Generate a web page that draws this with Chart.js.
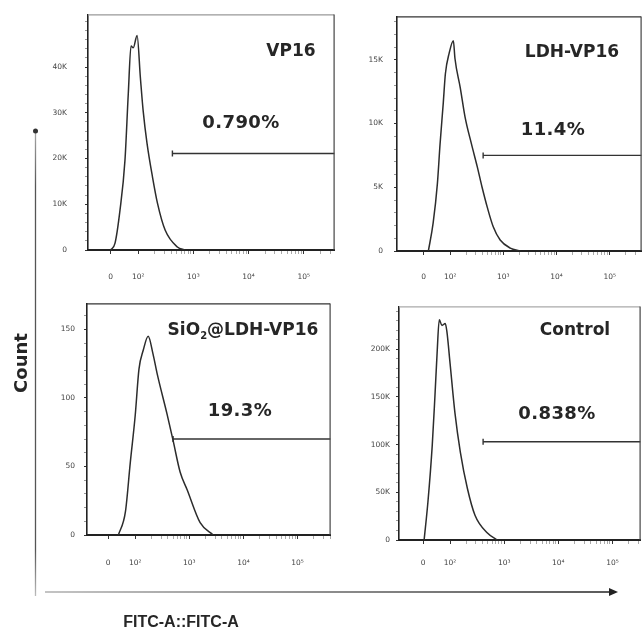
<!DOCTYPE html>
<html>
<head>
<meta charset="utf-8">
<script src="https://cdn.jsdelivr.net/npm/chart.js@4.4.1/dist/chart.umd.min.js"></script>
<style>
  html, body { margin: 0; padding: 0; background: #fff; }
  body { width: 643px; height: 631px; position: relative; overflow: hidden; font-family: "DejaVu Sans", sans-serif; }
  canvas { position: absolute; }
  .lbl { position: absolute; font-weight: bold; color: #262626; white-space: nowrap; transform: translate(-50%, -50%); }
  .title { font-size: 17px; }
  .pct { font-size: 18px; letter-spacing: 0.4px; }
  #count { position: absolute; left: 20px; top: 363px; font-size: 18px; font-weight: bold; color: #262626; transform: translate(-50%, -50%) rotate(-90deg); }
  #xname { position: absolute; left: 181px; top: 622px; font-family: "Liberation Sans", sans-serif; font-size: 16px; font-weight: bold; color: #262626; transform: translate(-50%, -50%); white-space: nowrap; }
  svg { position: absolute; left: 0; top: 0; }
</style>
</head>
<body>
<canvas id="c1"></canvas>
<canvas id="c2"></canvas>
<canvas id="c3"></canvas>
<canvas id="c4"></canvas>
<svg width="643" height="631">
  <defs>
    <linearGradient id="hg" gradientUnits="userSpaceOnUse" x1="45" y1="0" x2="612" y2="0">
      <stop offset="0" stop-color="#b0b0b0"/>
      <stop offset="0.5" stop-color="#666"/>
      <stop offset="1" stop-color="#222"/>
    </linearGradient>
    <linearGradient id="vg" gradientUnits="userSpaceOnUse" x1="0" y1="130" x2="0" y2="596">
      <stop offset="0" stop-color="#aaa"/>
      <stop offset="0.12" stop-color="#555"/>
      <stop offset="0.9" stop-color="#555"/>
      <stop offset="1" stop-color="#bbb"/>
    </linearGradient>
  </defs>
  <line x1="35.5" y1="131" x2="35.5" y2="596" stroke="url(#vg)" stroke-width="1.3"/>
  <circle cx="35.5" cy="131" r="2.5" fill="#333"/>
  <line x1="45" y1="592" x2="612" y2="592" stroke="url(#hg)" stroke-width="1.5"/>
  <polygon points="618,592 609,588 609,596" fill="#222"/>
</svg>
<div id="count">Count</div>
<div id="xname">FITC-A::FITC-A</div>

<div class="lbl title" style="left:291px;top:50px">VP16</div>
<div class="lbl pct" style="left:241px;top:121px">0.790%</div>
<div class="lbl title" style="left:572px;top:51px">LDH-VP16</div>
<div class="lbl pct" style="left:553px;top:128px">11.4%</div>
<div class="lbl title" style="left:243px;top:330px">SiO<sub style="font-size:10px">2</sub>@LDH-VP16</div>
<div class="lbl pct" style="left:240px;top:409px">19.3%</div>
<div class="lbl title" style="left:575px;top:329px">Control</div>
<div class="lbl pct" style="left:557px;top:412px">0.838%</div>

<script>
// FITC-A channel on a biexponential display scale: 0 -> 1.5, 10^n -> n
const xTickValues = [1.5, 2, 3, 4, 5];
const xTickLabels = ["0", "10\u00b2", "10\u00b3", "10\u2074", "10\u2075"];

// VP16
const vp16X = [1.50, 1.58, 1.67, 1.76, 1.82, 1.87, 1.91, 1.98, 2.04, 2.09, 2.16, 2.26, 2.35, 2.49, 2.71, 2.85];
const vp16Y = [0, 1500, 8700, 19600, 34100, 44600, 44200, 46900, 37600, 30400, 23300, 15900, 10200, 4300, 650, 0];
const vp16Ticks = [0, 10000, 20000, 30000, 40000];
const vp16TickLabels = ["0", "10K", "20K", "30K", "40K"];
const vp16Gate = [2.62, 21100];

// LDH-VP16
const ldhX = [1.59, 1.68, 1.76, 1.81, 1.87, 1.91, 1.98, 2.06, 2.09, 2.19, 2.28, 2.40, 2.51, 2.60, 2.70, 2.81, 2.94, 3.13, 3.32];
const ldhY = [0, 2200, 5300, 8400, 11600, 13900, 15500, 16500, 15100, 12800, 10500, 8400, 6600, 5000, 3400, 1900, 860, 230, 0];
const ldhTicks = [0, 5000, 10000, 15000];
const ldhTickLabels = ["0", "5K", "10K", "15K"];
const ldhGate = [2.62, 7500];

// SiO2@LDH-VP16
const sioX = [1.69, 1.82, 1.91, 2.00, 2.07, 2.15, 2.24, 2.33, 2.41, 2.59, 2.70, 2.83, 2.96, 3.20, 3.44];
const sioY = [0, 17, 53, 87, 121, 135, 145, 132, 117, 88, 69, 46, 33, 9, 0];
const sioTicks = [0, 50, 100, 150];
const sioTickLabels = ["0", "50", "100", "150"];
const sioGate = [2.70, 70];

// Control
const ctrlX = [1.52, 1.59, 1.67, 1.72, 1.76, 1.80, 1.85, 1.91, 1.94, 2.00, 2.09, 2.19, 2.32, 2.46, 2.69, 2.87];
const ctrlY = [0, 39600, 99000, 151000, 196000, 231000, 225000, 227000, 219000, 185000, 133000, 92000, 54000, 26000, 7300, 0];
const ctrlTicks = [0, 50000, 100000, 150000, 200000];
const ctrlTickLabels = ["0", "50K", "100K", "150K", "200K"];
const ctrlGate = [2.61, 103000];

const frame = {
  id: "frame",
  afterDatasetsDraw(chart, args, opts) {
    const a = chart.chartArea;
    const ctx = chart.ctx;
    ctx.save();
    ctx.lineWidth = 1.2;
    ctx.strokeStyle = opts.top || "#444";
    ctx.beginPath();
    ctx.moveTo(a.left, a.top + 0.5);
    ctx.lineTo(a.right - 0.5, a.top + 0.5);
    ctx.stroke();
    ctx.strokeStyle = "#444";
    ctx.beginPath();
    ctx.moveTo(a.right - 0.5, a.top);
    ctx.lineTo(a.right - 0.5, a.bottom);
    ctx.stroke();
    ctx.restore();
  }
};

// minor ticks: log steps between decades on x, fifths of the major step on y
function xMinorTicks(xMin, xMax) {
  const out = [];
  for (let d = 2; d < 6; d++) {
    for (let k = 2; k < 10; k++) {
      const v = d + Math.log10(k);
      if (v > xMin && v < xMax) out.push(v);
    }
  }
  return out;
}

function makePanel(id, box, xs, ys, yTicks, yLabels, gate, xMin, xMax, yMax, yPad, xPad, topColor) {
  const yW = 40, xH = 36, padTop = 4, padRight = 3;
  const canvas = document.getElementById(id);
  const left = box.left - yW;
  const top = box.top - padTop;
  const w = box.right - left + padRight * 2;
  const h = box.bottom - top + xH;
  canvas.width = w;
  canvas.height = h;
  canvas.style.left = left + "px";
  canvas.style.top = top + "px";
  const tickFont = { family: "DejaVu Sans", size: 7.5 };
  const step = yTicks[1] - yTicks[0];
  const yMinor = [];
  for (let v = step / 5; v < yMax; v += step / 5) {
    if (!yTicks.some((t) => Math.abs(t - v) < step / 50)) yMinor.push(v);
  }
  const xMinor = xMinorTicks(xMin, xMax);
  const xAll = xTickValues.concat(xMinor).sort((a, b) => a - b);
  const yAll = yTicks.concat(yMinor).sort((a, b) => a - b);
  new Chart(canvas.getContext("2d"), {
    type: "line",
    data: {
      datasets: [
        {
          data: xs.map((x, i) => ({ x: x, y: ys[i] })),
          borderColor: "#2c2c2c",
          borderWidth: 1.5,
          pointRadius: 0,
          cubicInterpolationMode: "monotone",
          fill: false,
        },
        {
          data: [{ x: gate[0], y: gate[1] }, { x: xMax, y: gate[1] }],
          borderColor: "#333",
          borderWidth: 1.4,
          pointStyle: "line",
          rotation: 90,
          pointRadius: (c) => (c.dataIndex === 0 ? 3 : 0),
          pointBorderColor: "#333",
          pointBorderWidth: 1.4,
        },
      ],
    },
    options: {
      responsive: false,
      animation: false,
      events: [],
      layout: { padding: { top: padTop, right: padRight, left: 0, bottom: 0 } },
      plugins: { legend: { display: false }, tooltip: { enabled: false }, frame: { top: topColor } },
      scales: {
        x: {
          type: "linear",
          min: xMin,
          max: xMax,
          afterFit: (s) => { s.height = xH; s.paddingLeft = 0; s.paddingRight = 0; },
          afterBuildTicks: (s) => { s.ticks = xAll.map((v) => ({ value: v })); },
          border: { color: "#222", width: 2 },
          grid: {
            drawOnChartArea: false,
            tickLength: 4,
            tickColor: (c) => (xTickValues.includes(c.tick.value) ? "#333" : "#aaa"),
          },
          ticks: {
            font: tickFont,
            color: "#444",
            padding: xPad,
            maxRotation: 0,
            autoSkip: false,
            callback: (v) => (xTickValues.includes(v) ? xTickLabels[xTickValues.indexOf(v)] : ""),
          },
        },
        y: {
          type: "linear",
          min: 0,
          max: yMax,
          afterFit: (s) => { s.width = yW; s.paddingTop = 0; s.paddingBottom = 0; },
          afterBuildTicks: (s) => { s.ticks = yAll.map((v) => ({ value: v })); },
          border: { color: "#222", width: 1.6 },
          grid: {
            drawOnChartArea: false,
            tickLength: 3,
            tickColor: (c) => (yTicks.includes(c.tick.value) ? "#333" : "#999"),
          },
          ticks: {
            font: tickFont,
            color: "#444",
            padding: yPad,
            autoSkip: false,
            callback: (v) => (yTicks.includes(v) ? yLabels[yTicks.indexOf(v)] : ""),
          },
        },
      },
    },
    plugins: [frame],
  });
}

makePanel("c1", { left: 88, top: 13, right: 334, bottom: 250 }, vp16X, vp16Y, vp16Ticks, vp16TickLabels, vp16Gate, 1.09, 5.56, 51500, 18, 19, "#999");
makePanel("c2", { left: 397, top: 15, right: 641, bottom: 251 }, ldhX, ldhY, ldhTicks, ldhTickLabels, ldhGate, 1.0, 5.60, 18400, 11, 18, "#333");
makePanel("c3", { left: 87, top: 302, right: 330, bottom: 535 }, sioX, sioY, sioTicks, sioTickLabels, sioGate, 1.11, 5.61, 169, 9, 20, "#333");
makePanel("c4", { left: 399, top: 305, right: 640, bottom: 540 }, ctrlX, ctrlY, ctrlTicks, ctrlTickLabels, ctrlGate, 1.056, 5.52, 245000, 6, 15, "#aaa");
</script>
</body>
</html>
